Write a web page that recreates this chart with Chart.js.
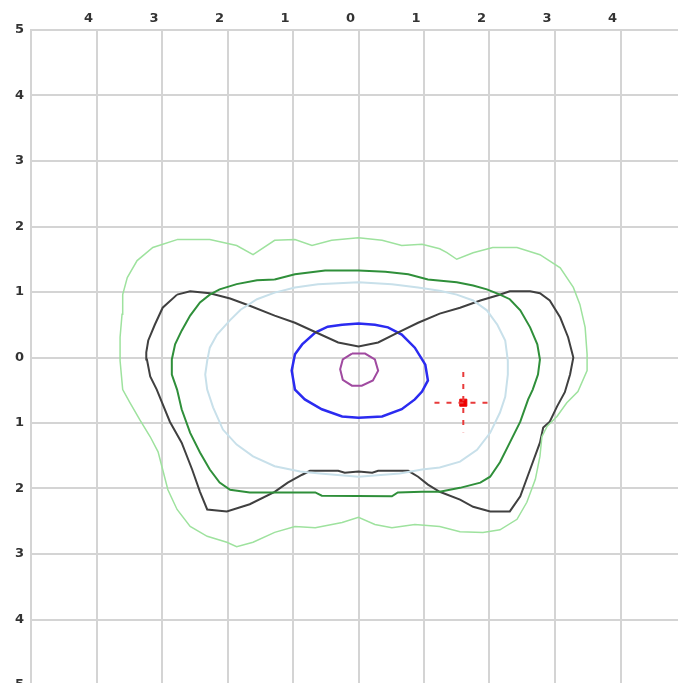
<!DOCTYPE html>
<html>
<head>
<meta charset="utf-8">
<script src="https://cdn.jsdelivr.net/npm/chart.js@4.4.1/dist/chart.umd.min.js"></script>
<style>
  body { margin: 0; background: #fff; }
  #wrap { width: 678px; height: 683px; overflow: hidden; position: relative; }
  canvas { position: absolute; left: 0; top: 0; }
</style>
</head>
<body>
<div id="wrap"><canvas id="doseChart" width="700" height="700"></canvas></div>
<script>
"use strict";

// axis ticks (labels show the distance, no sign)
const xTicks = [-4, -3, -2, -1, 0, 1, 2, 3, 4];
const yTicks = [5, 4, 3, 2, 1, 0, -1, -2, -3, -4, -5];

// contour lines, [x, y] pairs
const outerGreen = [
  [-2.77, 1.80], [-2.27, 1.80], [-1.86, 1.71], [-1.61, 1.57], [-1.28, 1.79], [-0.97, 1.80],
  [-0.71, 1.71], [-0.41, 1.79], [0.00, 1.83], [0.36, 1.79], [0.66, 1.71], [0.97, 1.73],
  [1.24, 1.66], [1.35, 1.60], [1.50, 1.50], [1.75, 1.60], [2.05, 1.68], [2.42, 1.68],
  [2.77, 1.57], [3.08, 1.37], [3.28, 1.07], [3.38, 0.81], [3.46, 0.46], [3.49, 0.05],
  [3.49, -0.20], [3.35, -0.52], [3.18, -0.69], [3.03, -0.90], [2.88, -1.05], [2.80, -1.21],
  [2.77, -1.51], [2.70, -1.86], [2.57, -2.21], [2.42, -2.47], [2.16, -2.63], [1.90, -2.67],
  [1.55, -2.66], [1.24, -2.58], [0.86, -2.55], [0.51, -2.60], [0.25, -2.55], [0.00, -2.44],
  [-0.25, -2.52], [-0.66, -2.60], [-0.97, -2.58], [-1.28, -2.67], [-1.61, -2.82], [-1.86, -2.89],
  [-2.01, -2.82], [-2.31, -2.73], [-2.57, -2.58], [-2.77, -2.32], [-2.91, -2.02], [-2.99, -1.71],
  [-3.06, -1.44], [-3.18, -1.21], [-3.34, -0.95], [-3.49, -0.69], [-3.60, -0.49], [-3.64, -0.05],
  [-3.64, 0.31], [-3.61, 0.66], [-3.60, 0.96], [-3.53, 1.22], [-3.38, 1.48], [-3.14, 1.68],
  [-2.77, 1.80]
];

const paleBlue = [
  [-1.28, 0.99], [-0.97, 1.07], [-0.62, 1.12], [0.00, 1.15], [0.51, 1.12], [0.91, 1.07],
  [1.24, 1.02], [1.50, 0.96], [1.75, 0.87], [1.96, 0.72], [2.12, 0.50], [2.24, 0.26],
  [2.28, -0.05], [2.28, -0.26], [2.24, -0.60], [2.16, -0.84], [2.01, -1.15], [1.81, -1.41],
  [1.55, -1.59], [1.24, -1.68], [0.97, -1.71], [0.63, -1.77], [0.00, -1.82], [-0.59, -1.77],
  [-0.89, -1.74], [-1.28, -1.66], [-1.61, -1.51], [-1.86, -1.33], [-2.07, -1.10], [-2.22, -0.76],
  [-2.31, -0.49], [-2.34, -0.26], [-2.31, -0.05], [-2.27, 0.15], [-2.16, 0.35], [-1.96, 0.57],
  [-1.80, 0.73], [-1.55, 0.89], [-1.28, 0.99]
];

const darkGreen = [
  [-1.28, 1.19], [-0.97, 1.27], [-0.51, 1.33], [0.00, 1.33], [0.41, 1.31], [0.76, 1.27],
  [1.06, 1.19], [1.50, 1.15], [1.75, 1.10], [1.96, 1.04], [2.16, 0.96], [2.31, 0.89],
  [2.47, 0.72], [2.62, 0.46], [2.73, 0.20], [2.77, -0.03], [2.74, -0.26], [2.66, -0.49],
  [2.59, -0.64], [2.47, -0.98], [2.31, -1.30], [2.16, -1.60], [2.01, -1.82], [1.86, -1.91],
  [1.55, -1.99], [1.24, -2.05], [0.97, -2.05], [0.60, -2.06], [0.51, -2.12], [-0.56, -2.11],
  [-0.66, -2.06], [-1.28, -2.06], [-1.66, -2.06], [-1.96, -2.02], [-2.12, -1.91], [-2.27, -1.71],
  [-2.42, -1.45], [-2.57, -1.15], [-2.70, -0.79], [-2.77, -0.49], [-2.85, -0.26], [-2.85, -0.03],
  [-2.80, 0.20], [-2.70, 0.41], [-2.57, 0.64], [-2.42, 0.84], [-2.27, 0.96], [-2.12, 1.04],
  [-1.86, 1.12], [-1.55, 1.18], [-1.28, 1.19]
];

const greyWings = [
  [-2.77, 0.96], [-2.57, 1.01], [-2.27, 0.98], [-1.96, 0.90], [-1.66, 0.79], [-1.28, 0.64],
  [-0.97, 0.53], [-0.62, 0.37], [-0.31, 0.23], [0.00, 0.17], [0.30, 0.23], [0.60, 0.38],
  [0.91, 0.53], [1.24, 0.67], [1.55, 0.76], [1.86, 0.87], [2.13, 0.95], [2.31, 1.01],
  [2.62, 1.01], [2.77, 0.98], [2.92, 0.87], [3.08, 0.61], [3.20, 0.31], [3.28, 0.00],
  [3.23, -0.26], [3.15, -0.53], [3.03, -0.75], [2.92, -0.98], [2.82, -1.07], [2.77, -1.30],
  [2.62, -1.71], [2.47, -2.12], [2.31, -2.35], [2.01, -2.35], [1.75, -2.28], [1.55, -2.17],
  [1.24, -2.05], [1.06, -1.94], [0.91, -1.82], [0.76, -1.73], [0.30, -1.73], [0.21, -1.76],
  [0.00, -1.74], [-0.21, -1.76], [-0.31, -1.73], [-0.74, -1.73], [-0.86, -1.79], [-1.08, -1.91],
  [-1.28, -2.05], [-1.66, -2.24], [-2.01, -2.35], [-2.31, -2.32], [-2.42, -2.05], [-2.54, -1.71],
  [-2.70, -1.30], [-2.88, -0.98], [-3.08, -0.49], [-3.18, -0.29], [-3.23, -0.03], [-3.24, 0.08],
  [-3.21, 0.26], [-3.11, 0.50], [-2.99, 0.76], [-2.77, 0.96]
];

const blueRing = [
  [-0.25, 0.50], [0.00, 0.52], [0.25, 0.50], [0.45, 0.46], [0.66, 0.35], [0.86, 0.15],
  [1.02, -0.11], [1.06, -0.35], [0.97, -0.52], [0.86, -0.64], [0.66, -0.79], [0.36, -0.90],
  [0.00, -0.92], [-0.25, -0.90], [-0.56, -0.79], [-0.82, -0.64], [-0.97, -0.49], [-1.02, -0.20],
  [-0.97, 0.05], [-0.86, 0.20], [-0.66, 0.38], [-0.47, 0.47], [-0.25, 0.50]
];

const purpleRing = [
  [-0.10, 0.06], [0.10, 0.06], [0.25, -0.03], [0.30, -0.20], [0.22, -0.35], [0.05, -0.43],
  [-0.10, -0.43], [-0.24, -0.34], [-0.28, -0.18], [-0.24, -0.03], [-0.10, 0.06]
];

// red marker and its dashed cross
const marker = [[1.60, -0.69]];
const crossH = [[1.16, -0.69], [2.05, -0.69]];
const crossV = [[1.60, -0.22], [1.60, -1.14]];

const toPts = arr => arr.map(p => ({x: p[0], y: p[1]}));

function contour(points, color, width) {
  return {
    data: toPts(points),
    showLine: true,
    borderColor: color,
    borderWidth: width,
    pointRadius: 0,
    fill: false,
    tension: 0
  };
}

const tickFont = {family: "'DejaVu Sans', Verdana, sans-serif", size: 13, weight: 'bold'};

const ctx = document.getElementById('doseChart').getContext('2d');

new Chart(ctx, {
  type: 'scatter',
  data: {
    datasets: [
      contour(outerGreen, '#9ee29e', 1.5),
      contour(paleBlue, '#c8e0ea', 2),
      contour(darkGreen, '#2f8f3a', 2),
      contour(greyWings, '#404040', 2),
      contour(blueRing, '#2b2bf0', 2.5),
      contour(purpleRing, '#a04aa0', 2),
      {
        data: toPts(crossH), showLine: true, borderColor: '#e83a3a', borderWidth: 2,
        borderDash: [5, 7], pointRadius: 0
      },
      {
        data: toPts(crossV), showLine: true, borderColor: '#e83a3a', borderWidth: 2,
        borderDash: [5, 7], pointRadius: 0
      },
      {
        data: toPts(marker), pointStyle: 'rect', pointRadius: 5,
        backgroundColor: '#ee0000', borderColor: '#ee0000'
      }
    ]
  },
  options: {
    responsive: false,
    animation: false,
    layout: {padding: {left: 0, top: 0, right: 14, bottom: 15}},
    plugins: {legend: {display: false}, tooltip: {enabled: false}},
    scales: {
      x: {
        type: 'linear',
        position: 'top',
        min: -5,
        max: 5,
        afterFit: scale => { scale.height = 30; },
        afterBuildTicks: scale => {
          scale.ticks = [-5].concat(xTicks, [5]).map(v => ({value: v}));
        },
        grid: {color: '#d4d4d4', lineWidth: 2, drawTicks: false},
        border: {color: '#d4d4d4', width: 2},
        ticks: {
          font: tickFont,
          color: '#333',
          padding: 4,
          labelOffset: -8,
          maxRotation: 0,
          callback: v => (Math.abs(v) === 5 ? '' : String(Math.abs(v)))
        }
      },
      y: {
        type: 'linear',
        min: -5,
        max: 5,
        afterFit: scale => { scale.width = 31; },
        afterBuildTicks: scale => {
          scale.ticks = yTicks.map(v => ({value: v}));
        },
        grid: {color: '#d4d4d4', lineWidth: 2, drawTicks: false},
        border: {color: '#d4d4d4', width: 2},
        ticks: {
          font: tickFont,
          color: '#333',
          padding: 7,
          callback: v => String(Math.abs(v))
        }
      }
    }
  }
});
</script>
</body>
</html>
